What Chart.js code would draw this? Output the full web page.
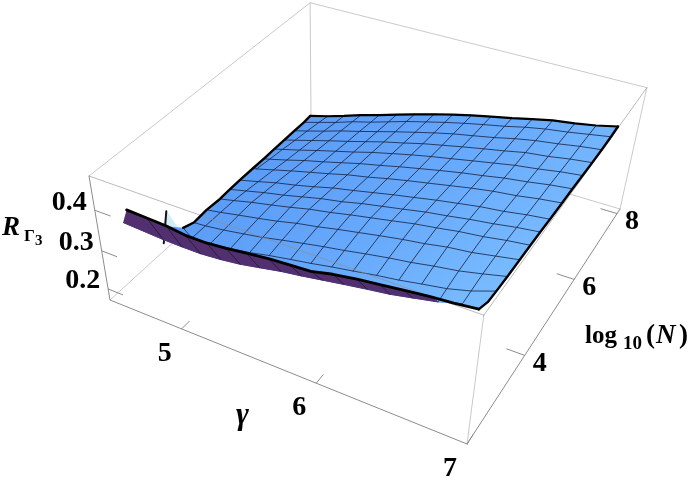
<!DOCTYPE html>
<html>
<head>
<meta charset="utf-8">
<style>
  html, body { margin: 0; padding: 0; background: #fff; }
</style>
<script src="https://cdn.jsdelivr.net/npm/chart.js@4/dist/chart.umd.min.js"></script>
</head>
<body>
<canvas id="surfaceChart" width="692" height="485"></canvas>
<script>
// axis ranges of the box
const gammaRange = [4.42, 7];
const logNRange = [2, 8.15];
const rRange = [0.17, 0.48];

// tick labels
const gammaTicks = [5, 6, 7];
const logNTicks = [4, 6, 8];
const rTicks = [0.2, 0.3, 0.4];

// mesh lines of the surface, rows go from back to front
const gammaGrid = [4.83, 4.97, 5.11, 5.26, 5.40, 5.54, 5.69, 5.83, 5.97, 6.11, 6.26, 6.40, 6.54, 6.69, 6.83, 6.97];
const logNGrid = [7.1, 6.8, 6.4, 6.0, 5.6, 5.2, 4.8, 4.35, 4.0, 3.66, 3.3, 2.9, 2.55, 2.3, 2.0];

// where each row starts on the left, the surface is cut there
const leftGamma = [4.68, 4.70, 4.72, 4.74, 4.76, 4.78, 4.80, 4.82, 4.84, 4.86, 4.86, 4.88, 4.91, 4.52, 4.68];
const leftR = [0.272, 0.278, 0.286, 0.293, 0.301, 0.308, 0.316, 0.324, 0.331, 0.337, 0.340, 0.345, 0.366, 0.356, 0.430];

// R values, one list per logN row
const surfaceR = [
  [0.285, 0.299, 0.314, 0.328, 0.342, 0.356, 0.370, 0.382, 0.393, 0.403, 0.413, 0.424, 0.434, 0.441, 0.449, 0.460],
  [0.290, 0.303, 0.318, 0.331, 0.345, 0.359, 0.372, 0.384, 0.395, 0.405, 0.415, 0.426, 0.435, 0.442, 0.450, 0.458],
  [0.296, 0.309, 0.323, 0.336, 0.349, 0.362, 0.375, 0.387, 0.398, 0.407, 0.417, 0.428, 0.437, 0.444, 0.452, 0.458],
  [0.301, 0.314, 0.327, 0.340, 0.353, 0.366, 0.378, 0.390, 0.400, 0.410, 0.420, 0.429, 0.439, 0.445, 0.453, 0.459],
  [0.307, 0.319, 0.332, 0.345, 0.357, 0.370, 0.382, 0.393, 0.403, 0.412, 0.422, 0.431, 0.440, 0.447, 0.455, 0.461],
  [0.312, 0.324, 0.337, 0.349, 0.361, 0.373, 0.384, 0.395, 0.405, 0.415, 0.425, 0.433, 0.442, 0.449, 0.457, 0.463],
  [0.318, 0.330, 0.342, 0.354, 0.365, 0.377, 0.387, 0.398, 0.408, 0.417, 0.427, 0.436, 0.444, 0.450, 0.458, 0.464],
  [null, 0.336, 0.348, 0.358, 0.369, 0.381, 0.391, 0.401, 0.411, 0.420, 0.430, 0.438, 0.446, 0.452, 0.460, 0.466],
  [null, 0.341, 0.352, 0.362, 0.373, 0.384, 0.393, 0.404, 0.413, 0.422, 0.432, 0.439, 0.447, 0.454, 0.462, 0.468],
  [null, 0.345, 0.356, 0.366, 0.376, 0.387, 0.396, 0.406, 0.415, 0.424, 0.434, 0.441, 0.449, 0.455, 0.463, 0.469],
  [null, 0.346, 0.355, 0.364, 0.373, 0.384, 0.393, 0.403, 0.412, 0.421, 0.430, 0.437, 0.446, 0.452, 0.461, 0.470],
  [null, 0.347, 0.353, 0.361, 0.369, 0.379, 0.389, 0.398, 0.406, 0.415, 0.424, 0.431, 0.440, 0.448, 0.459, 0.471],
  [null, 0.348, 0.351, 0.357, 0.364, 0.374, 0.383, 0.391, 0.400, 0.408, 0.417, 0.424, 0.433, 0.442, 0.455, 0.473],
  [0.350, 0.349, 0.349, 0.353, 0.359, 0.368, 0.378, 0.385, 0.393, 0.401, 0.409, 0.416, 0.426, 0.437, 0.452, 0.475],
  [0.428, 0.426, 0.420, 0.420, 0.424, 0.430, 0.436, 0.439, 0.442, 0.453, 0.461, 0.467, 0.473, 0.479, 0.483, 0.489]
];

// the little spike and pale sliver at the front left
const spikeGamma = [4.88, 4.83];
const spikeLogN = [2.3, 2.3];
const spikeR = [0.424, 0.341];
const sliverGamma = [4.88, 4.96, 4.85];
const sliverLogN = [2.3, 2.3, 2.3];
const sliverR = [0.424, 0.390, 0.391];

// perspective of the box, from the picture
const corner000 = [110, 300], corner100 = [467, 444], corner010 = [311, 117], corner001 = [89, 176];
const weightU = 0.8656, weightV = 1.2219, weightW = 0.91;

function project(gamma, logN, r) {
  const u = (gamma - gammaRange[0]) / (gammaRange[1] - gammaRange[0]);
  const v = (logN - logNRange[0]) / (logNRange[1] - logNRange[0]);
  const w = (r - rRange[0]) / (rRange[1] - rRange[0]);
  const h = 1 + u * (weightU - 1) + v * (weightV - 1) + w * (weightW - 1);
  const px = corner000[0] + u * (weightU * corner100[0] - corner000[0]) + v * (weightV * corner010[0] - corner000[0]) + w * (weightW * corner001[0] - corner000[0]);
  const py = corner000[1] + u * (weightU * corner100[1] - corner000[1]) + v * (weightV * corner010[1] - corner000[1]) + w * (weightW * corner001[1] - corner000[1]);
  return { x: px / h, y: py / h };
}

function rowPoints(j) {
  const pts = [project(leftGamma[j], logNGrid[j], leftR[j])];
  surfaceR[j].forEach((r, i) => {
    if (r !== null) pts.push(project(gammaGrid[i], logNGrid[j], r));
  });
  return pts;
}

function columnPoints(i) {
  const pts = [];
  surfaceR.forEach((row, j) => {
    if (row[i] !== null) pts.push(project(gammaGrid[i], logNGrid[j], row[i]));
  });
  return pts;
}

const canvas = document.getElementById('surfaceChart');
const ctx = canvas.getContext('2d');

const blue = ctx.createLinearGradient(300, 110, 470, 310);
blue.addColorStop(0, '#5a9bf6');
blue.addColorStop(0.5, '#66a8fb');
blue.addColorStop(1, '#78bbff');
const purple = '#52306f';
const meshColor = 'rgba(22,32,62,0.8)';

const paint = []; // in painting order, reversed at the end for chart.js

function addLine(points, color, width) {
  paint.push({ data: points, showLine: true, pointRadius: 0, borderColor: color, borderWidth: width, fill: false, tension: 0, clip: false, borderCapStyle: 'round', borderJoinStyle: 'round' });
}

function addShape(points, color) {
  paint.push({ data: points, showLine: true, pointRadius: 0, borderColor: color, borderWidth: 1, backgroundColor: color, fill: 'shape', tension: 0, clip: false });
}

function boxEdge(a, b, color, width) {
  addLine([project(a[0], a[1], a[2]), project(b[0], b[1], b[2])], color, width);
}

const gLo = gammaRange[0], gHi = gammaRange[1], nLo = logNRange[0], nHi = logNRange[1], rLo = rRange[0], rHi = rRange[1];
const edgeLight = '#c9c9c9', edgeAxis = '#8c8c8c', edgeOver = 'rgba(140,140,140,0.6)';

// box edges behind the surface
boxEdge([gLo, nLo, rLo], [gLo, nHi, rLo], edgeLight, 1);
boxEdge([gLo, nHi, rLo], [gHi, nHi, rLo], edgeLight, 1);
boxEdge([gLo, nHi, rLo], [gLo, nHi, rHi], edgeLight, 1);
boxEdge([gHi, nHi, rLo], [gHi, nHi, rHi], edgeLight, 1);
boxEdge([gLo, nHi, rHi], [gHi, nHi, rHi], edgeLight, 1);
boxEdge([gLo, nLo, rHi], [gLo, nHi, rHi], edgeLight, 1);
boxEdge([gHi, nLo, rLo], [gHi, nLo, rHi], edgeLight, 1);
boxEdge([gLo, nLo, rLo], [gHi, nLo, rLo], edgeAxis, 1);
boxEdge([gHi, nLo, rLo], [gHi, nHi, rLo], edgeAxis, 1);
boxEdge([gLo, nLo, rLo], [gLo, nLo, rHi], edgeAxis, 1);

// ticks
gammaTicks.forEach(g => boxEdge([g, nLo, rLo], [g, nLo + 0.2, rLo], edgeAxis, 1));
logNTicks.forEach(n => boxEdge([gHi, n, rLo], [gHi - 0.12, n, rLo], edgeAxis, 1));
rTicks.forEach(r => boxEdge([gLo, nLo, r], [gLo + 0.12, nLo, r], edgeAxis, 1));

// pale sliver and spike sit behind the surface
addShape(sliverGamma.map((g, k) => project(g, sliverLogN[k], sliverR[k])), '#d3eef2');
addLine(spikeGamma.map((g, k) => project(g, spikeLogN[k], spikeR[k])), '#15101c', 2);

// blue strips from the back to the front, last strip is the underside
const lastRow = logNGrid.length - 1;
for (let j = 0; j < lastRow - 1; j++) {
  addShape(rowPoints(j).concat(rowPoints(j + 1).reverse()), blue);
}
// right corner never turns over, it stays blue
addShape(rowPoints(lastRow - 1).slice(-3).concat(rowPoints(lastRow).slice(-3).reverse()), blue);
for (let j = 1; j < lastRow - 1; j++) addLine(rowPoints(j), meshColor, 1);
gammaGrid.forEach((g, i) => {
  if (i >= gammaGrid.length - 1) return;
  addLine(i >= gammaGrid.length - 3 ? columnPoints(i) : columnPoints(i).slice(0, -2), meshColor, 1);
});

// box edges in front of the surface
boxEdge([gLo, nLo, rHi], [gHi, nLo, rHi], edgeOver, 1);
boxEdge([gHi, nLo, rHi], [gHi, nHi, rHi], edgeOver, 1);

addShape(rowPoints(lastRow - 1).slice(0, -2).concat(rowPoints(lastRow).slice(0, -2).reverse()), purple);
gammaGrid.forEach((g, i) => {
  if (i < gammaGrid.length - 3) addLine(columnPoints(i).slice(-2), '#2b1a42', 1);
});

// thick boundary
const leftEdge = logNGrid.map((n, j) => rowPoints(j)[0]).slice(0, lastRow - 1);
addLine(leftEdge, '#000', 2.4);
addLine(rowPoints(0), '#000', 2.2);
addLine(logNGrid.map((n, j) => rowPoints(j).at(-1)), '#000', 2.4);
addLine(rowPoints(lastRow), '#000', 2.8);

const textPlugin = {
  id: 'boxText',
  afterDraw(chart) {
    const c = chart.ctx;
    c.save();
    c.fillStyle = '#000';
    c.textBaseline = 'middle';
    c.textAlign = 'center';
    c.font = 'bold 28px "Liberation Serif"';
    gammaTicks.forEach(g => {
      const p = project(g, nLo, rLo);
      c.fillText(String(g), p.x - 17, p.y + 25);
    });
    logNTicks.forEach(n => {
      const p = project(gHi, n, rLo);
      c.fillText(String(n), p.x + 15, p.y + 8);
    });
    c.textAlign = 'right';
    rTicks.forEach(r => {
      const p = project(gLo, nLo, r);
      c.fillText(r.toFixed(1), p.x - 8, p.y - 8);
    });

    c.textBaseline = 'alphabetic';
    c.textAlign = 'left';
    c.font = 'italic bold 27px "Liberation Serif"';
    c.fillText('R', 2, 235);
    c.font = 'bold 17px "Liberation Serif"';
    c.fillText('Γ', 24, 241);
    c.font = 'bold 15px "Liberation Serif"';
    c.fillText('3', 35, 245);

    c.font = 'italic bold 31px "Liberation Serif"';
    c.fillText('γ', 236, 424);

    c.font = 'bold 25px "Liberation Serif"';
    c.fillText('log', 585, 343);
    c.font = 'bold 19px "Liberation Serif"';
    c.fillText('10', 623, 349);
    c.font = 'bold 27px "Liberation Serif"';
    c.fillText('(', 646, 343);
    c.font = 'italic bold 27px "Liberation Serif"';
    c.fillText('N', 656, 343);
    c.font = 'bold 27px "Liberation Serif"';
    c.fillText(')', 679, 343);
    c.restore();
  }
};

new Chart(ctx, {
  type: 'scatter',
  data: { datasets: paint.reverse() },
  options: {
    responsive: false,
    animation: false,
    events: [],
    layout: { padding: 0 },
    plugins: { legend: { display: false }, tooltip: { enabled: false } },
    scales: {
      x: { type: 'linear', display: false, min: 0, max: 692 },
      y: { type: 'linear', display: false, min: 0, max: 485, reverse: true }
    }
  },
  plugins: [textPlugin]
});
</script>
</body>
</html>
